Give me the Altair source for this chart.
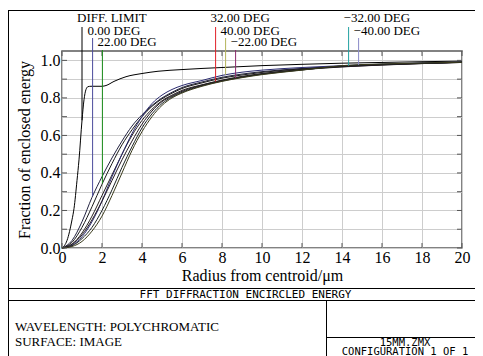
import altair as alt
import numpy as np
import pandas as pd

# ---------------- data ----------------
X_TICKS = [0, 2, 4, 6, 8, 10, 12, 14, 16, 18, 20]
Y_GRID = [0.0, 0.1, 0.2, 0.3, 0.4, 0.5, 0.6, 0.7, 0.8, 0.9, 1.0]

DIFF_R = [0, 0.25, 0.5, 0.6, 0.75, 0.85, 1.0, 1.1, 1.2, 1.3, 1.45, 2.0, 2.2, 2.6,
          3.2, 4.0, 4.8, 6.0, 7.0, 8.0, 10.0, 12.0, 14.0, 16.0, 18.0, 20.0]
DIFF_V = [0, 0.04, 0.15, 0.21, 0.36, 0.47, 0.68, 0.79, 0.845, 0.86, 0.862, 0.862,
          0.866, 0.888, 0.913, 0.93, 0.942, 0.951, 0.957, 0.962, 0.972, 0.979,
          0.985, 0.989, 0.993, 0.996]

R_GRID = [0, 0.5, 1, 1.5, 2, 2.5, 3, 3.5, 4, 4.5, 5, 5.5, 6, 7, 8, 9, 10, 12, 14, 16, 18, 20]
FIELD_NAMES = ["0.00 DEG", "22.00 DEG", "32.00 DEG", "40.00 DEG",
               "\u221222.00 DEG", "\u221232.00 DEG", "\u221240.00 DEG"]
F_0 = [0, 0.04, 0.14, 0.27, 0.38, 0.48, 0.57, 0.65, 0.71, 0.76, 0.80, 0.83, 0.855,
       0.885, 0.91, 0.927, 0.94, 0.957, 0.969, 0.978, 0.985, 0.99]
F_22 = [0, 0.03, 0.11, 0.22, 0.34, 0.45, 0.55, 0.63, 0.70, 0.755, 0.795, 0.825, 0.85,
        0.88, 0.905, 0.922, 0.936, 0.955, 0.968, 0.977, 0.984, 0.99]
F_32 = [0, 0.02, 0.08, 0.17, 0.28, 0.39, 0.50, 0.60, 0.68, 0.74, 0.785, 0.815, 0.84,
        0.87, 0.895, 0.915, 0.93, 0.952, 0.966, 0.976, 0.983, 0.989]
F_40 = [0, 0.015, 0.06, 0.14, 0.25, 0.38, 0.50, 0.61, 0.70, 0.77, 0.815, 0.845, 0.866,
        0.893, 0.92, 0.937, 0.948, 0.962, 0.972, 0.98, 0.986, 0.99]
F_M22 = [0, 0.02, 0.07, 0.15, 0.25, 0.36, 0.47, 0.57, 0.66, 0.73, 0.78, 0.81, 0.835,
         0.868, 0.893, 0.912, 0.928, 0.95, 0.965, 0.975, 0.983, 0.989]
F_M32 = [0, 0.012, 0.05, 0.11, 0.20, 0.31, 0.43, 0.54, 0.64, 0.715, 0.77, 0.805, 0.83,
         0.865, 0.89, 0.91, 0.926, 0.949, 0.97, 0.979, 0.985, 0.99]
F_M40 = [0, 0.008, 0.035, 0.09, 0.17, 0.28, 0.40, 0.52, 0.62, 0.70, 0.76, 0.80, 0.826,
         0.862, 0.888, 0.908, 0.924, 0.948, 0.972, 0.981, 0.986, 0.99]
FIELD_VALUES = [F_0, F_22, F_32, F_40, F_M22, F_M32, F_M40]

MARKER_LABELS = ["DIFF. LIMIT"] + FIELD_NAMES
MARKER_R = [1.0, 1.53, 2.02, 7.68, 8.18, 8.68, 14.33, 14.83]

# ---------------- styles ----------------
MARKER_COLORS = ["#000000", "#4c4c9c", "#1a8c1a", "#e02028", "#b4b45a",
                 "#8c2a6c", "#22a2a2", "#8a8ac8"]
CURVE_COLORS = ["#000000", "#222240", "#1a1a1a", "#262020", "#2c2c70",
                "#241a22", "#1a2222", "#3a3a1c"]
SERIF = "Liberation Serif"
MONO = "DejaVu Sans Mono"
W, H = 400, 197
YMAX = 1.05
ROW_TEXT_Y = [-33.5, -20.5, -9]
ROW_TOP = [-24, -13, -1]
RIGHT = 413  # right edge of the drawable area, plot coordinates
BOTTOM = 305

x_scale = alt.Scale(domain=[0, 20], nice=False, zero=False)
y_scale = alt.Scale(domain=[0, YMAX], nice=False, zero=False)

x_axis = alt.Axis(values=X_TICKS, format="d", labelFont=SERIF, labelFontSize=16,
                  labelColor="black", labelPadding=1, labelFlush=False, labelOverlap=False,
                  ticks=False, domain=False, grid=True, gridColor="#cdcdcd", gridWidth=1,
                  titleFont=SERIF, titleFontSize=16, titleFontWeight="normal",
                  titleColor="black", titlePadding=2)
y_axis = alt.Axis(values=Y_GRID,
                  labelExpr="round(datum.value * 10) % 2 == 0 ? format(datum.value, '.1f') : ''",
                  labelFont=SERIF, labelFontSize=16, labelColor="black", labelPadding=2,
                  labelFlush=False, labelOverlap=False, ticks=False, domain=False,
                  grid=True, gridColor="#cdcdcd", gridWidth=1,
                  titleFont=SERIF, titleFontSize=16, titleFontWeight="normal",
                  titleColor="black", titlePadding=8)

X_TITLE = "Radius from centroid/\u03bcm"
Y_TITLE = "Fraction of enclosed energy"


def X(field="r"):
    return alt.X(f"{field}:Q", scale=x_scale, axis=x_axis, title=X_TITLE)


def Y(field="v"):
    return alt.Y(f"{field}:Q", scale=y_scale, axis=y_axis, title=Y_TITLE)


# ---------------- curves ----------------
rows = [{"series": "DIFF. LIMIT", "r": r, "v": v} for r, v in zip(DIFF_R, DIFF_V)]
for name, vals in zip(FIELD_NAMES, FIELD_VALUES):
    rows += [{"series": name, "r": r, "v": v} for r, v in zip(R_GRID, vals)]
curve_df = pd.DataFrame(rows)
series_order = ["DIFF. LIMIT"] + FIELD_NAMES

curves = alt.Chart(curve_df).mark_line(strokeWidth=1, interpolate="monotone").encode(
    x=X(), y=Y(),
    color=alt.Color("series:N", scale=alt.Scale(domain=series_order, range=CURVE_COLORS),
                    legend=None),
    detail="series:N",
)

# ---------------- inward ticks ----------------
ytick_df = pd.DataFrame({"v": Y_GRID})
xtick_df = pd.DataFrame({"r": X_TICKS})
tick_color = "#555555"
ticks = [
    alt.Chart(ytick_df).mark_rule(color=tick_color, strokeWidth=1).encode(
        y=Y(), x=alt.value(0), x2=alt.value(5)),
    alt.Chart(ytick_df).mark_rule(color=tick_color, strokeWidth=1).encode(
        y=Y(), x=alt.value(W - 5), x2=alt.value(W)),
    alt.Chart(xtick_df).mark_rule(color=tick_color, strokeWidth=1).encode(
        x=X(), y=alt.value(H - 5), y2=alt.value(H)),
    alt.Chart(xtick_df).mark_rule(color=tick_color, strokeWidth=1).encode(
        x=X(), y=alt.value(0), y2=alt.value(5)),
]

# ---------------- markers and labels ----------------
all_r = [DIFF_R] + [R_GRID] * len(FIELD_VALUES)
all_v = [DIFF_V] + FIELD_VALUES
marker_layers = []
for i, (lab, mr) in enumerate(zip(MARKER_LABELS, MARKER_R)):
    row = i % 3
    vend = float(np.interp(mr, all_r[i], all_v[i]))
    mdf = pd.DataFrame({"r": [mr], "v": [vend], "label": [lab]})
    marker_layers.append(
        alt.Chart(mdf).mark_rule(color=MARKER_COLORS[i], strokeWidth=1).encode(
            x=X(), y=Y(), y2=alt.value(ROW_TOP[row])))
    marker_layers.append(
        alt.Chart(mdf).mark_text(font=SERIF, fontSize=13, align="left", baseline="middle",
                                 dx=-5, color="black").encode(
            x=X(), y=alt.value(ROW_TEXT_Y[row]), text="label:N"))

# ---------------- frame & footer ----------------
one = pd.DataFrame({"k": [0]})
SEGMENTS = [
    (-53.5, -40.5, RIGHT, -40.5),   # outer top
    (-53.5, -41, -53.5, BOTTOM),    # outer left
    (-54, 237.5, RIGHT, 237.5),     # above title band
    (-54, 249.5, RIGHT, 249.5),     # below title band
    (264.5, 249.5, 264.5, BOTTOM),  # divider
    (264.5, 286.5, RIGHT, 286.5),   # right box line
]
frame = [
    alt.Chart(one).mark_rule(color="black", strokeWidth=1).encode(
        x=alt.value(a), y=alt.value(b), x2=alt.value(c), y2=alt.value(d))
    for a, b, c, d in SEGMENTS
]


def txt(s, x, y, font, size, align="left"):
    return alt.Chart(one).mark_text(font=font, fontSize=size, align=align,
                                    baseline="middle", color="black").encode(
        x=alt.value(x), y=alt.value(y), text=alt.value(s))


texts = [
    txt("FFT DIFFRACTION ENCIRCLED ENERGY", 183.5, 243.5, MONO, 11, "center"),
    txt("WAVELENGTH: POLYCHROMATIC", -47, 276, SERIF, 13),
    txt("SURFACE: IMAGE", -47, 290.5, SERIF, 13),
    txt("15MM.ZMX", 343, 292, MONO, 10.5, "center"),
    txt("CONFIGURATION 1 OF 1", 343, 301, MONO, 10.5, "center"),
]

chart = alt.layer(curves, *ticks, *marker_layers, *frame, *texts).properties(
    width=W, height=H,
    padding={"left": 54, "top": 43, "right": 13, "bottom": 108},
    autosize=alt.AutoSizeParams(type="none"),
    background="white",
).configure_view(stroke="#5a5a5a", strokeWidth=1.5)

chart.save("out.html", embed_options={"renderer": "svg", "actions": False})
